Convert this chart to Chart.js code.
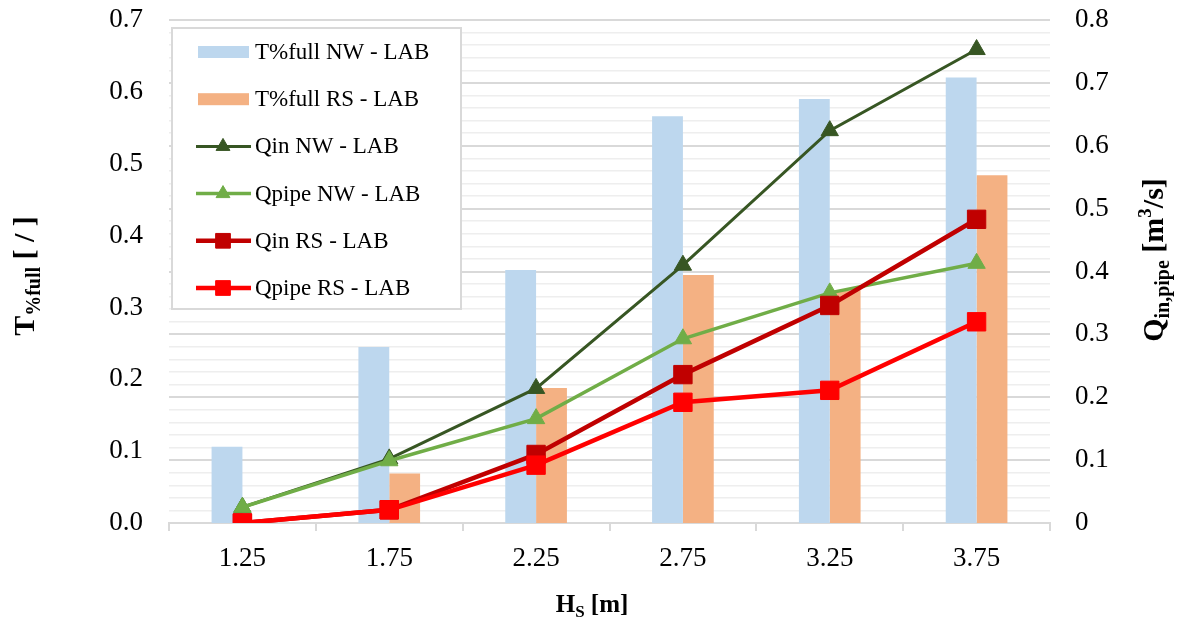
<!DOCTYPE html>
<html>
<head>
<meta charset="utf-8">
<script src="https://cdn.jsdelivr.net/npm/chart.js@4/dist/chart.umd.min.js"></script>
<style>
  body { margin: 0; background: #fff; }
</style>
</head>
<body>
<canvas id="myChart" width="1184" height="620"></canvas>
<script>
// data
var hs = ["1.25", "1.75", "2.25", "2.75", "3.25", "3.75"];
var tfullNW = [0.106, 0.245, 0.352, 0.566, 0.590, 0.620];
var tfullRS = [0, 0.069, 0.188, 0.345, 0.324, 0.484];
var qinNW = [0.025, 0.102, 0.214, 0.41, 0.624, 0.753];
var qpipeNW = [0.025, 0.099, 0.166, 0.293, 0.366, 0.413];
var qinRS = [0, 0.021, 0.109, 0.236, 0.346, 0.483];
var qpipeRS = [0, 0.021, 0.092, 0.192, 0.211, 0.32];
var leftTicks = [0, 0.1, 0.2, 0.3, 0.4, 0.5, 0.6, 0.7];

var serif = "'Liberation Serif', 'Times New Roman', serif";

function lineSet(label, data, color, width, style, radius, order) {
  return {
    type: "line", label: label, data: data, yAxisID: "y1", order: order,
    borderColor: color, backgroundColor: color, borderWidth: width,
    pointStyle: style, pointRadius: radius, pointBorderWidth: 1,
    pointBackgroundColor: color, pointBorderColor: color, tension: 0
  };
}

// draws a string made of pieces (subscripts / superscripts)
function richText(ctx, parts, x, y, rot) {
  ctx.save();
  ctx.translate(x, y);
  if (rot) ctx.rotate(rot);
  var w = 0;
  parts.forEach(function (p) {
    ctx.font = "bold " + p.size + "px " + serif;
    p.w = ctx.measureText(p.t).width;
    w += p.w;
  });
  var cx = -w / 2;
  ctx.fillStyle = "#000";
  ctx.textBaseline = "alphabetic";
  ctx.textAlign = "left";
  parts.forEach(function (p) {
    ctx.font = "bold " + p.size + "px " + serif;
    ctx.fillText(p.t, cx, p.dy || 0);
    cx += p.w;
  });
  ctx.restore();
}

var titles = {
  id: "titles",
  afterDraw(chart) {
    var ctx = chart.ctx;
    richText(ctx, [{t: "T", size: 30}, {t: "%full", size: 20, dy: 6}, {t: " [ / ]", size: 30}], 34, 276, -Math.PI / 2);
    richText(ctx, [{t: "Q", size: 30}, {t: "in,pipe", size: 20, dy: 6}, {t: " [m", size: 30}, {t: "3", size: 19, dy: -12}, {t: "/s]", size: 30}], 1163, 260, -Math.PI / 2);
    richText(ctx, [{t: "H", size: 25}, {t: "S", size: 17, dy: 5}, {t: " [m]", size: 25}], 592, 612, 0);
  }
};

var legendBox = {
  id: "legendBox",
  afterDraw(chart) {
    var ctx = chart.ctx;
    ctx.save();
    ctx.fillStyle = "#fff";
    ctx.fillRect(172, 28, 289, 281);
    ctx.strokeStyle = "#d9d9d9";
    ctx.lineWidth = 2;
    ctx.strokeRect(172, 28, 289, 281);
    chart.data.datasets.forEach(function (ds, i) {
      var y = 52 + i * 47.2;
      if (ds.type == "bar") {
        ctx.fillStyle = ds.backgroundColor;
        ctx.fillRect(198, y - 6, 51, 12);
      } else {
        ctx.strokeStyle = ds.borderColor;
        ctx.lineWidth = ds.borderWidth;
        ctx.beginPath();
        ctx.moveTo(196, y);
        ctx.lineTo(251, y);
        ctx.stroke();
        ctx.fillStyle = ds.borderColor;
        ctx.lineWidth = 1;
        Chart.helpers.drawPoint(ctx, {pointStyle: ds.pointStyle, radius: ds.pointRadius * 0.8, rotation: 0, borderWidth: 1}, 223, y);
      }
      ctx.fillStyle = "#000";
      ctx.font = "23px " + serif;
      ctx.textBaseline = "middle";
      ctx.textAlign = "left";
      ctx.fillText(ds.label, 255, y + 1);
    });
    ctx.restore();
  }
};

// keep the tick label padding from pushing the plot down
function fixY(width) {
  return function (s) {
    s.width = width;
    s.paddingTop = 0;
    s.paddingBottom = 0;
  };
}

const myChart = new Chart("myChart", {
  data: {
    labels: hs,
    datasets: [
      {type: "bar", label: "T%full NW - LAB", data: tfullNW, yAxisID: "y", order: 5,
       backgroundColor: "#bdd7ee", categoryPercentage: 0.42, barPercentage: 1},
      {type: "bar", label: "T%full RS - LAB", data: tfullRS, yAxisID: "y", order: 6,
       backgroundColor: "#f4b183", categoryPercentage: 0.42, barPercentage: 1},
      lineSet("Qin NW - LAB", qinNW, "#375623", 3, "triangle", 10, 4),
      lineSet("Qpipe NW - LAB", qpipeNW, "#70ad47", 3.5, "triangle", 10, 3),
      lineSet("Qin RS - LAB", qinRS, "#c00000", 4.5, "rect", 13, 2),
      lineSet("Qpipe RS - LAB", qpipeRS, "#ff0000", 4.5, "rect", 13, 1)
    ]
  },
  options: {
    responsive: false,
    animation: false,
    devicePixelRatio: 1,
    layout: {padding: {top: 20, left: 0, right: 0, bottom: 0}},
    plugins: {legend: {display: false}, tooltip: {enabled: false}},
    scales: {
      x: {
        offset: true,
        grid: {offset: true, drawOnChartArea: false, drawTicks: true, tickLength: 8, color: "#d9d9d9", lineWidth: 2},
        border: {color: "#d9d9d9", width: 2},
        ticks: {font: {family: serif, size: 27}, color: "#000", padding: 12},
        afterFit(s) { s.height = 97; }
      },
      y: {
        position: "left",
        min: 0, max: 0.7,
        afterBuildTicks(s) { s.ticks = leftTicks.map(function (v) { return {value: v}; }); },
        ticks: {font: {family: serif, size: 27}, color: "#000", padding: 26,
                callback: function (v) { return v.toFixed(1); }},
        grid: {display: false, drawTicks: false},
        border: {display: false},
        afterFit: fixY(169)
      },
      y1: {
        position: "right",
        min: 0, max: 0.8,
        ticks: {
          stepSize: 0.02, autoSkip: false, font: {family: serif, size: 27}, color: "#000", padding: 25,
          callback: function (v) {
            var r = Math.round(v * 50);
            if (r % 5 != 0) return "";
            return r == 0 ? "0" : (r / 50).toFixed(1);
          }
        },
        grid: {
          drawTicks: false,
          color: function (c) { return Math.round(c.tick.value * 50) % 5 == 0 ? "#d9d9d9" : "#eeeeee"; },
          lineWidth: function (c) { return Math.round(c.tick.value * 50) % 5 == 0 ? 2 : 1.5; }
        },
        border: {display: false},
        afterFit: fixY(134)
      }
    }
  },
  plugins: [legendBox, titles]
});
</script>
</body>
</html>
